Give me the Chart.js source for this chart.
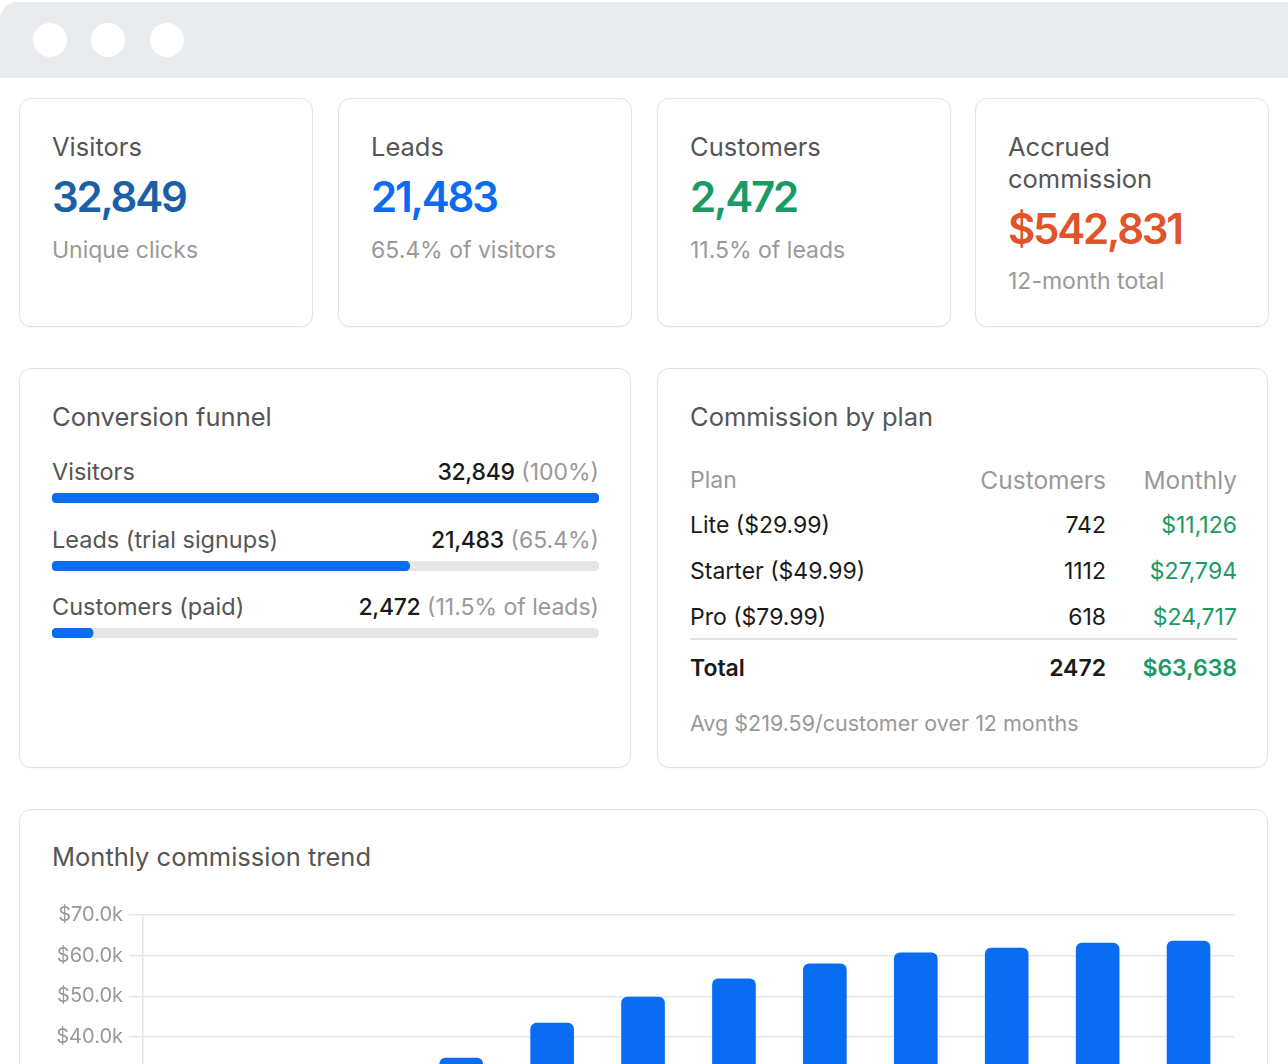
<!DOCTYPE html>
<html><head><meta charset="utf-8">
<script src="https://cdn.jsdelivr.net/npm/chart.js@4.4.0/dist/chart.umd.min.js"></script>
<style>
html,body{margin:0;padding:0;background:#fff;}
body{width:1288px;height:1064px;overflow:hidden;position:relative;font-family:Inter,"Noto Sans",sans-serif;}
.chrome{position:absolute;left:0;top:2px;width:1288px;height:76px;background:#e9ecee;border-top-left-radius:18px;}
.dot{position:absolute;top:23px;width:34px;height:34px;border-radius:50%;background:#fff;}
.card{position:absolute;background:#fff;border:1.5px solid #e2e2e2;border-radius:12px;box-sizing:border-box;box-shadow:0 1px 2px rgba(0,0,0,0.03);}
.abs{position:absolute;white-space:nowrap;}
.klabel{left:32px;font-size:25.5px;line-height:32px;color:#555;}
.kval{left:32px;font-size:42px;line-height:50px;font-weight:600;letter-spacing:-2.2px;}
.ksub{left:32px;font-size:23px;line-height:28px;color:#999;}
.title{left:32px;top:33px;font-size:25.5px;line-height:30px;color:#555;}
.frow{left:32px;width:547px;display:flex;justify-content:space-between;font-size:23.5px;line-height:28px;}
.frow .l{color:#555;}
.frow .v{color:#1a1a1a;font-weight:500;font-size:23px;letter-spacing:-0.3px;}
.frow .p{color:#999;font-size:23px;}
.fbar{position:absolute;left:32px;}
.trow{left:32px;width:547px;font-size:23px;line-height:28px;color:#1a1a1a;}
.trow span{position:absolute;top:0;}
.c1{left:0;}
.c2{right:131px;}
.c3{right:0;color:#1a9a64;}
.thead{color:#999;font-size:24.5px;}
.thead .c1{font-size:23px;}
.thead .c3{color:#999;}
.divider{position:absolute;left:32px;width:547px;top:269px;height:1.5px;background:#e2e2e2;}
.foot{left:32px;font-size:21.5px;line-height:26px;color:#999;}
</style></head>
<body>
<div class="chrome"></div>
<div class="dot" style="left:33px"></div>
<div class="dot" style="left:91px"></div>
<div class="dot" style="left:150px"></div>

<div id="kpis"></div>

<div class="card" style="left:19px;top:368px;width:612px;height:400px;">
  <div class="abs title">Conversion funnel</div>
  <div id="funnel"></div>
</div>

<div class="card" style="left:657px;top:368px;width:611px;height:400px;">
  <div class="abs title">Commission by plan</div>
  <div id="table"></div>
  <div class="divider"></div>
  <div class="abs foot" id="foot" style="top:341px;"></div>
</div>

<div class="card" style="left:19px;top:809px;width:1249px;height:460px;">
  <div class="abs title" style="top:32px;">Monthly commission trend</div>
</div>
<canvas id="trend" width="1184" height="338" style="position:absolute;left:52px;top:897px;width:1184px;height:338px;"></canvas>

<script>
// ---- data ----
const kpiLabels = ['Visitors', 'Leads', 'Customers', 'Accrued commission'];
const kpiValues = ['32,849', '21,483', '2,472', '$542,831'];
const kpiSubs = ['Unique clicks', '65.4% of visitors', '11.5% of leads', '12-month total'];
const kpiColors = ['#1b5fa7', '#0a6cf0', '#1a9a64', '#e0532b'];

const funnelLabels = ['Visitors', 'Leads (trial signups)', 'Customers (paid)'];
const funnelValues = [32849, 21483, 2472];
const funnelNotes = ['(100%)', '(65.4%)', '(11.5% of leads)'];

const planNames = ['Lite ($29.99)', 'Starter ($49.99)', 'Pro ($79.99)'];
const planCustomers = [742, 1112, 618];
const planMonthly = [11126, 27794, 24717];
const totalRow = ['Total', 2472, 63638];
const footNote = 'Avg $219.59/customer over 12 months';

const months = ['Jan', 'Feb', 'Mar', 'Apr', 'May', 'Jun', 'Jul', 'Aug', 'Sep', 'Oct', 'Nov', 'Dec'];
const commission = [11293, 16900, 24600, 34850, 43450, 49850, 54350, 58050, 60750, 61950, 63150, 63638];
const yMax = 70000;
const yStep = 10000;

const BLUE = '#0a6cf0';
Chart.defaults.font.family = 'Inter';

// ---- KPI cards ----
const kpiWrap = document.getElementById('kpis');
const kpiLeft = [19, 338, 657, 975];
kpiLabels.forEach((lab, i) => {
  const c = document.createElement('div');
  c.className = 'card';
  c.style.cssText = `left:${kpiLeft[i]}px;top:98px;width:294px;height:229px;`;
  const twoLine = i === 3;
  c.innerHTML =
    `<div class="abs klabel" style="top:32px;${twoLine ? 'white-space:normal;width:200px;' : ''}">${lab}</div>` +
    `<div class="abs kval" style="top:${twoLine ? 105 : 73}px;color:${kpiColors[i]}">${kpiValues[i]}</div>` +
    `<div class="abs ksub" style="top:${twoLine ? 168 : 137}px;">${kpiSubs[i]}</div>`;
  kpiWrap.appendChild(c);
});

// ---- funnel ----
const fWrap = document.getElementById('funnel');
const fmt = n => n.toLocaleString('en-US');
funnelLabels.forEach((lab, i) => {
  const top = 89 + i * 67.5;
  const r = document.createElement('div');
  r.className = 'abs frow';
  r.style.top = top + 'px';
  r.innerHTML = `<span class="l">${lab}</span><span><span class="v">${fmt(funnelValues[i])}</span> <span class="p">${funnelNotes[i]}</span></span>`;
  fWrap.appendChild(r);
  const cv = document.createElement('canvas');
  cv.className = 'fbar';
  cv.width = 547; cv.height = 10;
  cv.style.cssText = `left:32px;top:${124 + i * 67.5}px;width:547px;height:10px;`;
  fWrap.appendChild(cv);
  new Chart(cv, {
    type: 'bar',
    data: {
      labels: [lab],
      datasets: [
        { data: [funnelValues[i]], backgroundColor: BLUE, borderRadius: 5, borderSkipped: false, grouped: false, order: 1, categoryPercentage: 1, barPercentage: 1 },
        { data: [funnelValues[0]], backgroundColor: '#e6e6e6', borderRadius: 5, borderSkipped: false, grouped: false, order: 2, categoryPercentage: 1, barPercentage: 1 }
      ]
    },
    options: {
      indexAxis: 'y', responsive: false, animation: false,
      plugins: { legend: { display: false }, tooltip: { enabled: false } },
      layout: { padding: 0 },
      scales: { x: { display: false, min: 0, max: funnelValues[0] }, y: { display: false } }
    }
  });
});

// ---- table ----
const tWrap = document.getElementById('table');
const money = n => '$' + fmt(n);
function addRow(top, a, b, c, cls, style) {
  const r = document.createElement('div');
  r.className = 'abs trow ' + (cls || '');
  r.style.cssText = `top:${top}px;height:28px;` + (style || '');
  r.innerHTML = `<span class="c1">${a}</span><span class="c2">${b}</span><span class="c3">${c}</span>`;
  tWrap.appendChild(r);
}
addRow(97, 'Plan', 'Customers', 'Monthly', 'thead');
planNames.forEach((p, i) => addRow(142 + i * 46, p, planCustomers[i], money(planMonthly[i])));
addRow(285, totalRow[0], totalRow[1], money(totalRow[2]), '', 'font-weight:600;');
document.getElementById('foot').textContent = footNote;

// ---- trend chart ----
new Chart(document.getElementById('trend'), {
  type: 'bar',
  data: {
    labels: months,
    datasets: [{ data: commission, backgroundColor: BLUE, borderRadius: 6, borderSkipped: 'bottom', categoryPercentage: 0.6, barPercentage: 0.8 }]
  },
  options: {
    responsive: false, animation: false,
    plugins: { legend: { display: false }, tooltip: { enabled: false } },
    layout: { padding: { top: 0, right: 2, left: 0, bottom: 0 } },
    scales: {
      x: { grid: { display: false }, border: { display: false }, ticks: { color: '#999', font: { size: 18 } } },
      y: {
        min: 0, max: yMax,
        ticks: { stepSize: yStep, padding: 6, color: '#999', font: { size: 20 }, callback: v => '$' + (v / 1000).toFixed(1) + 'k' },
        grid: { color: '#e6e6e6', lineWidth: 1.5, tickLength: 14 },
        border: { color: '#e6e6e6', width: 1.5 },
        afterFit: s => { s.width = 91; }
      }
    }
  }
});
</script>
</body></html>
